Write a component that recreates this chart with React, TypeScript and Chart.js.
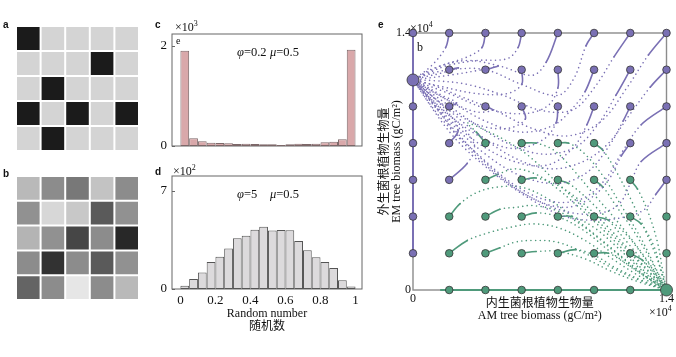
import React, { useEffect, useRef } from 'react';
import { Chart, registerables } from 'chart.js';
Chart.register(...registerables);

const W = 676;
const H = 357;
const SERIF = '"Liberation Serif", "Times New Roman", "Noto Sans CJK SC", serif';
const SANS = '"Liberation Sans", Arial, sans-serif';
const PURPLE = '#7a70b4';
const GREEN = '#4f9a7b';

// ---------- panel a / b : 5x5 cells ----------
const cellColumns = ['1', '2', '3', '4', '5'];
// 1 = occupied (dark), 0 = empty (light); rows top -> bottom
const occupancyA = [
  [1, 0, 0, 0, 0],
  [0, 0, 0, 1, 0],
  [0, 1, 0, 0, 0],
  [1, 0, 1, 0, 1],
  [0, 1, 0, 0, 0],
];
// grey levels (0-255); rows top -> bottom
const greyB = [
  [185, 140, 120, 195, 140],
  [145, 215, 200, 90, 145],
  [180, 145, 70, 140, 40],
  [140, 50, 140, 90, 145],
  [100, 140, 230, 140, 185],
];

// ---------- panel c / d : histograms ----------
const binCenters = [0.025, 0.075, 0.125, 0.175, 0.225, 0.275, 0.325, 0.375, 0.425, 0.475,
  0.525, 0.575, 0.625, 0.675, 0.725, 0.775, 0.825, 0.875, 0.925, 0.975];
const countsC = [1900, 153, 93, 66, 60, 53, 40, 47, 40, 33, 33, 20, 33, 47, 40, 47, 73, 87, 133, 1920];
const countsD = [23, 71, 117, 193, 231, 290, 362, 381, 424, 445, 417, 421, 419, 343, 276, 226, 193, 150, 62, 17];
const yTicksC = [0, 2000];
const yTickLabelsC = ['0', '2'];
const yTicksD = [0, 700];
const yTickLabelsD = ['0', '7'];
const xTicksD = [0, 0.2, 0.4, 0.6, 0.8, 1];
const xTickLabelsD = ['0', '0.2', '0.4', '0.6', '0.8', '1'];

// ---------- panel e : trajectories (x10^4 gC/m2) ----------
const ticksE = [0, 1.4];
const tickLabelsE = ['0', '1.4'];
const emAttractor: [number, number][] = [[0, 1.144]];
const amAttractor: [number, number][] = [[1.4, 0]];
const emStarts: [number, number][] = [
  [0, 1.4], [0.2, 1.4], [0.4, 1.4], [0.6, 1.4], [0.8, 1.4], [1.0, 1.4], [1.2, 1.4], [1.4, 1.4],
  [0.2, 1.2], [0.4, 1.2], [0.6, 1.2], [0.8, 1.2], [1.0, 1.2], [1.2, 1.2], [1.4, 1.2],
  [0, 1.0], [0.2, 1.0], [0.4, 1.0], [0.6, 1.0], [0.8, 1.0], [1.0, 1.0], [1.2, 1.0], [1.4, 1.0],
  [0, 0.8], [0.2, 0.8], [1.2, 0.8], [1.4, 0.8],
  [0, 0.6], [0.2, 0.6], [1.4, 0.6],
  [0, 0.4], [0, 0.2],
];
const amStarts: [number, number][] = [
  [0.4, 0.8], [0.6, 0.8], [0.8, 0.8], [1.0, 0.8],
  [0.4, 0.6], [0.6, 0.6], [0.8, 0.6], [1.0, 0.6], [1.2, 0.6],
  [0.2, 0.4], [0.4, 0.4], [0.6, 0.4], [0.8, 0.4], [1.0, 0.4], [1.2, 0.4], [1.4, 0.4],
  [0.2, 0.2], [0.4, 0.2], [0.6, 0.2], [0.8, 0.2], [1.0, 0.2], [1.2, 0.2], [1.4, 0.2],
  [0.2, 0], [0.4, 0], [0.6, 0], [0.8, 0], [1.0, 0], [1.2, 0],
];
const emAxisPath: [number, number][] = [[0, 0.2], [0, 1.4]];
const amAxisPath: [number, number][] = [[0.15, 0], [1.4, 0]];
const emTrajectories: [number, number][][] = [
  [[0.2, 1.4], [0.18, 1.32], [0.1, 1.22], [0, 1.144]],
  [[0.4, 1.4], [0.38, 1.32], [0.3, 1.27], [0.15, 1.22], [0.05, 1.17], [0, 1.144]],
  [[0.6, 1.4], [0.58, 1.32], [0.52, 1.26], [0.35, 1.25], [0.18, 1.22], [0.06, 1.17], [0, 1.144]],
  [[0.8, 1.4], [0.735, 1.24], [0.66, 1.17], [0.48, 1.22], [0.3, 1.25], [0.12, 1.21], [0, 1.144]],
  [[1.0, 1.4], [0.955, 1.33], [0.89, 1.155], [0.8, 1.06], [0.6, 1.12], [0.4, 1.2], [0.2, 1.2], [0.07, 1.17], [0, 1.144]],
  [[1.2, 1.4], [1.11, 1.27], [1.0, 1.1], [0.88, 0.98], [0.7, 0.98], [0.5, 1.06], [0.3, 1.12], [0.12, 1.14], [0, 1.144]],
  [[1.4, 1.4], [1.3, 1.28], [1.18, 1.1], [1.04, 0.92], [0.86, 0.84], [0.66, 0.88], [0.45, 0.98], [0.25, 1.06], [0.1, 1.12], [0, 1.144]],
  [[0.2, 1.2], [0.25, 1.21], [0.15, 1.18], [0.06, 1.16], [0, 1.144]],
  [[0.4, 1.2], [0.47, 1.22], [0.38, 1.2], [0.2, 1.17], [0, 1.144]],
  [[0.6, 1.2], [0.6, 1.12], [0.52, 1.07], [0.35, 1.07], [0.15, 1.11], [0, 1.144]],
  [[0.8, 1.2], [0.8, 1.1], [0.74, 1.0], [0.6, 0.96], [0.4, 0.99], [0.2, 1.07], [0, 1.144]],
  [[1.0, 1.2], [0.95, 1.08], [0.89, 1.0], [0.78, 0.9], [0.6, 0.86], [0.4, 0.92], [0.2, 1.03], [0, 1.144]],
  [[1.2, 1.2], [1.12, 1.06], [1.02, 0.9], [0.9, 0.78], [0.72, 0.74], [0.52, 0.8], [0.32, 0.92], [0.12, 1.06], [0, 1.144]],
  [[1.4, 1.2], [1.31, 1.105], [1.2, 0.96], [1.08, 0.8], [0.94, 0.7], [0.76, 0.66], [0.56, 0.72], [0.36, 0.85], [0.15, 1.02], [0, 1.144]],
  [[0.2, 1.0], [0.24, 1.02], [0.16, 1.06], [0.07, 1.11], [0, 1.144]],
  [[0.4, 1.0], [0.44, 0.98], [0.35, 0.97], [0.2, 1.03], [0, 1.144]],
  [[0.6, 1.0], [0.62, 0.93], [0.52, 0.88], [0.36, 0.9], [0.18, 1.0], [0, 1.144]],
  [[0.8, 1.0], [0.79, 0.91], [0.72, 0.82], [0.56, 0.77], [0.38, 0.83], [0.18, 0.97], [0, 1.144]],
  [[1.0, 1.0], [0.96, 0.9], [0.88, 0.77], [0.74, 0.68], [0.56, 0.7], [0.36, 0.8], [0.16, 0.97], [0, 1.144]],
  [[1.2, 1.0], [1.16, 0.92], [1.08, 0.78], [0.96, 0.64], [0.8, 0.58], [0.6, 0.62], [0.4, 0.74], [0.18, 0.94], [0, 1.144]],
  [[1.4, 1.0], [1.26, 0.9], [1.16, 0.76], [1.06, 0.6], [0.94, 0.5], [0.78, 0.48], [0.58, 0.56], [0.38, 0.72], [0.16, 0.93], [0, 1.144]],
  [[0.2, 0.8], [0.25, 0.87], [0.2, 0.96], [0.1, 1.06], [0, 1.144]],
  [[1.2, 0.8], [1.15, 0.73], [1.08, 0.6], [0.98, 0.5], [0.84, 0.45], [0.66, 0.5], [0.46, 0.64], [0.24, 0.86], [0, 1.144]],
  [[1.4, 0.8], [1.26, 0.7], [1.2, 0.58], [1.14, 0.47], [1.04, 0.42], [0.88, 0.42], [0.7, 0.48], [0.5, 0.6], [0.28, 0.8], [0.1, 1.03], [0, 1.144]],
  [[1.4, 0.6], [1.34, 0.52], [1.28, 0.44], [1.18, 0.4], [1.02, 0.38], [0.84, 0.4], [0.64, 0.5], [0.44, 0.64], [0.22, 0.84], [0, 1.144]],
  [[0.2, 0.6], [0.3, 0.69], [0.34, 0.78], [0.28, 0.88], [0.14, 1.0], [0, 1.144]],
];
const amTrajectories: [number, number][][] = [
  [[0.4, 0.8], [0.35, 0.86], [0.3, 0.91], [0.4, 0.87], [0.52, 0.81], [0.64, 0.73], [0.78, 0.6], [0.94, 0.45], [1.1, 0.3], [1.26, 0.14], [1.4, 0]],
  [[0.6, 0.8], [0.68, 0.8], [0.78, 0.76], [0.88, 0.66], [1.0, 0.52], [1.14, 0.36], [1.28, 0.18], [1.4, 0]],
  [[0.8, 0.8], [0.86, 0.8], [0.95, 0.74], [1.05, 0.62], [1.15, 0.46], [1.26, 0.28], [1.35, 0.1], [1.4, 0]],
  [[1.0, 0.8], [1.05, 0.76], [1.12, 0.65], [1.2, 0.5], [1.28, 0.33], [1.36, 0.14], [1.4, 0]],
  [[0.4, 0.6], [0.47, 0.63], [0.56, 0.66], [0.68, 0.63], [0.8, 0.55], [0.95, 0.42], [1.1, 0.28], [1.26, 0.12], [1.4, 0]],
  [[0.6, 0.6], [0.68, 0.61], [0.8, 0.57], [0.93, 0.48], [1.07, 0.35], [1.22, 0.19], [1.4, 0]],
  [[0.8, 0.6], [0.86, 0.58], [0.96, 0.5], [1.08, 0.38], [1.2, 0.24], [1.32, 0.1], [1.4, 0]],
  [[1.0, 0.6], [1.05, 0.56], [1.12, 0.46], [1.22, 0.32], [1.32, 0.15], [1.4, 0]],
  [[1.2, 0.6], [1.24, 0.55], [1.3, 0.42], [1.35, 0.26], [1.38, 0.1], [1.4, 0]],
  [[0.2, 0.4], [0.26, 0.47], [0.35, 0.53], [0.46, 0.56], [0.6, 0.56], [0.74, 0.5], [0.88, 0.4], [1.02, 0.29], [1.18, 0.16], [1.32, 0.05], [1.4, 0]],
  [[0.4, 0.4], [0.48, 0.44], [0.57, 0.45], [0.66, 0.46], [0.8, 0.43], [0.95, 0.34], [1.1, 0.22], [1.25, 0.1], [1.4, 0]],
  [[0.6, 0.4], [0.68, 0.42], [0.8, 0.4], [0.95, 0.32], [1.1, 0.2], [1.26, 0.09], [1.4, 0]],
  [[0.8, 0.4], [0.88, 0.4], [1.0, 0.34], [1.12, 0.24], [1.26, 0.11], [1.4, 0]],
  [[1.0, 0.4], [1.08, 0.38], [1.18, 0.3], [1.29, 0.16], [1.4, 0]],
  [[1.2, 0.4], [1.26, 0.36], [1.33, 0.24], [1.37, 0.1], [1.4, 0]],
  [[0.2, 0.2], [0.3, 0.27], [0.41, 0.31], [0.53, 0.34], [0.66, 0.36], [0.8, 0.34], [0.95, 0.27], [1.1, 0.17], [1.26, 0.07], [1.4, 0]],
  [[0.4, 0.2], [0.48, 0.23], [0.56, 0.26], [0.66, 0.27], [0.8, 0.26], [0.95, 0.2], [1.1, 0.12], [1.26, 0.05], [1.4, 0]],
  [[0.6, 0.2], [0.68, 0.21], [0.8, 0.21], [0.95, 0.17], [1.1, 0.1], [1.26, 0.04], [1.4, 0]],
  [[0.8, 0.2], [0.9, 0.22], [1.0, 0.19], [1.12, 0.12], [1.27, 0.05], [1.4, 0]],
  [[1.0, 0.2], [1.08, 0.2], [1.18, 0.14], [1.3, 0.06], [1.4, 0]],
  [[1.2, 0.2], [1.27, 0.16], [1.34, 0.08], [1.4, 0]],
];

// ---------- helpers ----------
type Part = { t: string; size: number; italic?: boolean; bold?: boolean; family?: string; dy?: number };
type TextItem = { x: number; y: number; parts: Part[]; align?: 'left' | 'center' | 'right'; color?: string };

function drawItems(ctx: CanvasRenderingContext2D, items: TextItem[]) {
  ctx.save();
  ctx.textBaseline = 'middle';
  ctx.textAlign = 'left';
  for (const it of items) {
    const fonts = it.parts.map(p => `${p.italic ? 'italic ' : ''}${p.bold ? 'bold ' : ''}${p.size}px ${p.family ?? SERIF}`);
    let total = 0;
    const widths = it.parts.map((p, i) => {
      ctx.font = fonts[i];
      const w = ctx.measureText(p.t).width;
      total += w;
      return w;
    });
    let x = it.align === 'center' ? it.x - total / 2 : it.align === 'right' ? it.x - total : it.x;
    it.parts.forEach((p, i) => {
      ctx.font = fonts[i];
      ctx.fillStyle = it.color ?? '#111';
      ctx.fillText(p.t, x, it.y + (p.dy ?? 0));
      x += widths[i];
    });
  }
  ctx.restore();
}

function textPlugin(id: string, items: TextItem[]) {
  return { id, afterDraw(chart: any) { drawItems(chart.ctx, items); } };
}

function boxPlugin(id: string, color: string, width: number, inner?: { axis: string; values: number[] }) {
  return {
    id,
    beforeDatasetsDraw(chart: any) {
      const { ctx, chartArea: a } = chart;
      ctx.save();
      ctx.strokeStyle = color;
      ctx.lineWidth = width;
      ctx.strokeRect(a.left, a.top, a.right - a.left, a.bottom - a.top);
      if (inner) {
        const s = chart.scales[inner.axis];
        ctx.beginPath();
        inner.values.forEach(v => {
          const py = Math.round(s.getPixelForValue(v)) + 0.5;
          ctx.moveTo(a.left, py);
          ctx.lineTo(a.left + 3, py);
        });
        ctx.stroke();
      }
      ctx.restore();
    },
  };
}

const letter = (t: string, x: number, y: number): TextItem => ({ x, y, parts: [{ t, size: 10, bold: true, family: SANS }] });
const rgb = (g: number) => `rgb(${g},${g},${g})`;

function cellConfig(colors: string[][], padding: any, texts: TextItem[], id: string) {
  const rowsBottomUp = colors.slice().reverse();
  return {
    type: 'bar',
    data: {
      labels: cellColumns,
      datasets: rowsBottomUp.map(row => ({
        data: row.map(() => 1),
        backgroundColor: row,
        borderColor: '#ffffff',
        borderWidth: 1,
        borderSkipped: false,
        barPercentage: 1,
        categoryPercentage: 1,
        inflateAmount: 0,
      })),
    },
    options: {
      animation: false, responsive: false, maintainAspectRatio: false, events: [],
      layout: { padding },
      plugins: { legend: { display: false }, tooltip: { enabled: false } },
      scales: {
        x: { display: false, stacked: true },
        y: { display: false, stacked: true, min: 0, max: 5 },
      },
    },
    plugins: [textPlugin(id, texts)],
  };
}

function histConfig(opts: {
  counts: number[]; fill: string; stroke: string; yMax: number; yTicks: number[]; yLabels: string[];
  padding: any; showX: boolean; texts: TextItem[]; id: string;
}) {
  return {
    type: 'bar',
    data: {
      datasets: [{
        data: binCenters.map((x, i) => ({ x, y: opts.counts[i] })),
        backgroundColor: opts.fill,
        borderColor: opts.stroke,
        borderWidth: 1,
        borderSkipped: false,
        barPercentage: 1,
        categoryPercentage: 1,
        inflateAmount: 0,
      }],
    },
    options: {
      animation: false, responsive: false, maintainAspectRatio: false, events: [],
      layout: { padding: opts.padding },
      plugins: { legend: { display: false }, tooltip: { enabled: false } },
      scales: {
        x: {
          type: 'linear', min: -0.048, max: 1.037, offset: false,
          display: opts.showX,
          grid: { display: false, drawTicks: false, offset: false },
          border: { display: false },
          afterBuildTicks: (axis: any) => { axis.ticks = xTicksD.map(v => ({ value: v })); },
          afterFit: (axis: any) => { axis.height = opts.showX ? 44.5 : 0; },
          ticks: {
            autoSkip: false, maxRotation: 0, padding: 4, color: '#111',
            font: { family: SERIF, size: 13 },
            callback: (_v: any, i: number) => xTickLabelsD[i],
          },
          title: {
            display: opts.showX, text: ['Random number', '随机数'], color: '#111', padding: 0,
            font: { family: SERIF, size: 12, lineHeight: 13 / 12 },
          },
        },
        y: {
          min: 0, max: opts.yMax,
          grid: { display: false, drawTicks: false },
          border: { display: false },
          afterBuildTicks: (axis: any) => { axis.ticks = opts.yTicks.map(v => ({ value: v })); },
          afterFit: (axis: any) => { axis.width = 32; },
          ticks: {
            padding: 5, color: '#111', font: { family: SERIF, size: 13 },
            callback: (_v: any, i: number) => opts.yLabels[i],
          },
        },
      },
    },
    plugins: [boxPlugin(opts.id + 'box', '#666', 1, { axis: 'y', values: opts.yTicks }), textPlugin(opts.id, opts.texts)],
  };
}

const pts = (arr: [number, number][]) => arr.map(([x, y]) => ({ x, y }));

function trajectoryDataset(path: [number, number][], color: string) {
  return {
    data: pts(path),
    showLine: true,
    tension: 0.35,
    pointRadius: 0,
    borderColor: color,
    borderWidth: 1.6,
    borderDash: [0.001, 4.6],
    borderCapStyle: 'round',
    segment: { borderDash: (ctx: any) => (ctx.p0DataIndex === 0 ? [] : undefined) },
    clip: false,
    order: 10,
  };
}

function pointDataset(arr: [number, number][], color: string, r: number) {
  return {
    data: pts(arr),
    pointRadius: r,
    pointBackgroundColor: color,
    pointBorderColor: '#333',
    pointBorderWidth: 0.8,
    showLine: false,
    clip: false,
    order: 0,
  };
}

function axisPathDataset(arr: [number, number][], color: string) {
  return { data: pts(arr), showLine: true, pointRadius: 0, borderColor: color, borderWidth: 2, clip: false, order: 5 };
}

function scatterConfig() {
  const sup4: Part[] = [{ t: '×10', size: 12 }, { t: '4', size: 8, dy: -4 }];
  const texts: TextItem[] = [
    letter('e', 378, 25),
    { x: 410, y: 29, parts: sup4 },
    { x: 649, y: 313, parts: sup4 },
    { x: 417, y: 48, parts: [{ t: 'b', size: 12 }] },
  ];
  const axisCommon = (titleLines: string[], isX: boolean) => ({
    type: 'linear', min: 0, max: 1.4,
    grid: { display: false, drawTicks: false },
    border: { display: false },
    afterBuildTicks: (axis: any) => { axis.ticks = ticksE.map(v => ({ value: v })); },
    afterFit: (axis: any) => { if (isX) axis.height = 32; else axis.width = 34; },
    ticks: {
      autoSkip: false, maxRotation: 0, padding: 2, color: '#111',
      font: { family: SERIF, size: 12 },
      callback: (_v: any, i: number) => tickLabelsE[i],
    },
    title: {
      display: true, text: titleLines, color: '#111', padding: 0,
      font: { family: SERIF, size: 12, lineHeight: 1 },
    },
  });
  return {
    type: 'scatter',
    data: {
      datasets: [
        pointDataset(emAttractor, PURPLE, 6),
        pointDataset(amAttractor, GREEN, 6),
        pointDataset(emStarts, PURPLE, 3.8),
        pointDataset(amStarts, GREEN, 3.8),
        axisPathDataset(emAxisPath, PURPLE),
        axisPathDataset(amAxisPath, GREEN),
        ...emTrajectories.map(t => trajectoryDataset(t, PURPLE)),
        ...amTrajectories.map(t => trajectoryDataset(t, GREEN)),
      ],
    },
    options: {
      animation: false, responsive: false, maintainAspectRatio: false, events: [],
      layout: { padding: { left: 379, right: 8, top: 33, bottom: 35 } },
      plugins: { legend: { display: false }, tooltip: { enabled: false } },
      scales: {
        x: axisCommon(['内生菌根植物生物量', 'AM tree biomass (gC/m²)'], true),
        y: axisCommon(['外生菌根植物生物量', 'EM tree biomass (gC/m²)'], false),
      },
    },
    plugins: [boxPlugin('ebox', '#8c8c8c', 1.4), textPlugin('etext', texts)],
  };
}

function configs() {
  const colorsA = occupancyA.map(r => r.map(v => (v ? '#1b1b1b' : '#d4d4d4')));
  const colorsB = greyB.map(r => r.map(rgb));
  const cfgA = cellConfig(colorsA, { left: 16, right: 537, top: 26, bottom: 206 }, [letter('a', 3, 25), letter('b', 3, 174)], 'atext');
  const cfgB = cellConfig(colorsB, { left: 16, right: 537, top: 176, bottom: 57 }, [], 'btext');
  const cfgC = histConfig({
    counts: countsC, fill: '#d9a8aa', stroke: '#7d6869', yMax: 2233, yTicks: yTicksC, yLabels: yTickLabelsC,
    padding: { left: 140, right: 314, top: 34, bottom: 211 }, showX: false, id: 'ctext',
    texts: [
      letter('c', 155, 25),
      { x: 175, y: 28, parts: [{ t: '×10', size: 12 }, { t: '3', size: 8, dy: -4 }] },
      { x: 176, y: 41, parts: [{ t: 'e', size: 10 }] },
      { x: 237, y: 53, parts: [{ t: 'φ', size: 12.5, italic: true }, { t: '=0.2', size: 12.5 }] },
      { x: 270, y: 53, parts: [{ t: 'μ', size: 12.5, italic: true }, { t: '=0.5', size: 12.5 }] },
    ],
  });
  const cfgD = histConfig({
    counts: countsD, fill: '#dcdadc', stroke: '#555555', yMax: 807, yTicks: yTicksD, yLabels: yTickLabelsD,
    padding: { left: 140, right: 314, top: 176, bottom: 23.5 }, showX: true, id: 'dtext',
    texts: [
      letter('d', 155, 172),
      { x: 173, y: 172, parts: [{ t: '×10', size: 12 }, { t: '2', size: 8, dy: -4 }] },
      { x: 237, y: 195, parts: [{ t: 'φ', size: 12.5, italic: true }, { t: '=5', size: 12.5 }] },
      { x: 270, y: 195, parts: [{ t: 'μ', size: 12.5, italic: true }, { t: '=0.5', size: 12.5 }] },
    ],
  });
  return [cfgA, cfgB, cfgC, cfgD, scatterConfig()];
}

export default function App() {
  const r0 = useRef<HTMLCanvasElement>(null);
  const r1 = useRef<HTMLCanvasElement>(null);
  const r2 = useRef<HTMLCanvasElement>(null);
  const r3 = useRef<HTMLCanvasElement>(null);
  const r4 = useRef<HTMLCanvasElement>(null);
  const refs = [r0, r1, r2, r3, r4];

  useEffect(() => {
    const cfgs = configs();
    const charts: Chart[] = [];
    refs.forEach((r, i) => {
      if (r.current) charts.push(new Chart(r.current, cfgs[i] as any));
    });
    return () => charts.forEach(c => c.destroy());
  }, []);

  return (
    <div style={{ position: 'absolute', left: 0, top: 0, width: W, height: H, background: '#ffffff' }}>
      {refs.map((r, i) => (
        <canvas key={i} ref={r} width={W} height={H}
          style={{ position: 'absolute', left: 0, top: 0, width: W, height: H }} />
      ))}
    </div>
  );
}
